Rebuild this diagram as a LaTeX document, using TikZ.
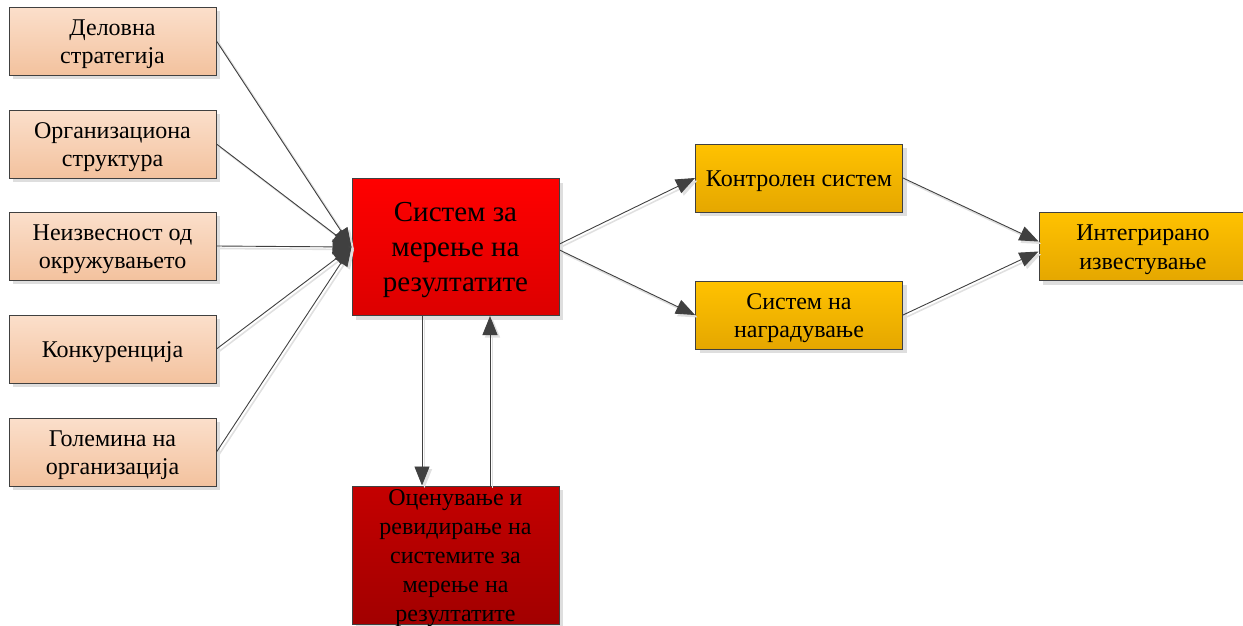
\documentclass[tikz,border=0pt]{standalone}
\usepackage{fontspec}
\setmainfont{Liberation Serif}
\usetikzlibrary{arrows.meta,shadings}

\definecolor{edgegray}{HTML}{404040}
\definecolor{peachtop}{HTML}{FBDFCB}
\definecolor{peachbot}{HTML}{F3C29E}
\definecolor{redtop}{HTML}{FF0000}
\definecolor{redbot}{HTML}{DC0000}
\definecolor{darktop}{HTML}{C40000}
\definecolor{darkbot}{HTML}{A20000}
\definecolor{goldtop}{HTML}{FFC200}
\definecolor{goldbot}{HTML}{E5A700}

% invisible struts that lower the text block slightly inside its box
\newcommand{\lowA}{\rule{0pt}{22pt}}
\newcommand{\lowB}{\rule{0pt}{26pt}}

\tikzset{
  boxbase/.style={draw=edgegray, line width=1pt, align=center, inner sep=2pt,
    minimum width=207pt, minimum height=68pt, text=black},
  factorbox/.style={boxbase, top color=peachtop, bottom color=peachbot,
    font=\fontsize{24}{28.5}\selectfont},
  corebox/.style={boxbase, minimum height=137pt, top color=redtop, bottom color=redbot,
    font=\fontsize{29}{35}\selectfont},
  reviewbox/.style={boxbase, minimum height=138pt, top color=darktop, bottom color=darkbot},
  reviewtext/.style={align=center, inner sep=0pt, text=black,
    font=\fontsize{24}{29}\selectfont},
  outbox/.style={boxbase, top color=goldtop, bottom color=goldbot,
    font=\fontsize{24}{28.5}\selectfont},
  boxshadow/.style={fill=black!13, draw=none},
  conn/.style={draw=edgegray, line width=0.9pt,
    -{Triangle[length=19pt,width=15pt]}},
  connshadow/.style={draw=black!12, line width=1.6pt,
    -{Triangle[length=19pt,width=15pt]}}
}

\begin{document}
\begin{tikzpicture}[x=1pt,y=-1pt]
\useasboundingbox (0,0) rectangle (1243,625);
\clip (0,0) rectangle (1243,625);

% box shadows
\foreach \cx/\cy/\w/\h in {112.5/41/207/68, 112.5/144/207/68, 112.5/246/207/68,
    112.5/349/207/68, 112.5/452/207/68, 455.5/247/207/137, 455.5/555/207/138,
    799/178/207/68, 799/315/207/68, 1143/246.5/208/68}
  \fill[boxshadow] (\cx-\w/2+4,\cy-\h/2+4) rectangle (\cx+\w/2+4,\cy+\h/2+4);

% nodes
\node[factorbox] (f1) at (112.5,41) {\lowA Деловна\\стратегија};
\node[factorbox] (f2) at (112.5,144) {\lowA Организациона\\структура};
\node[factorbox] (f3) at (112.5,246) {\lowA Неизвесност од\\окружувањето};
\node[factorbox] (f4) at (112.5,349) {\lowA Конкуренција};
\node[factorbox] (f5) at (112.5,452) {\lowA Големина на\\организација};

\node[corebox] (core) at (455.5,247) {\lowB Систем за\\мерење на\\резултатите};
\node[reviewbox] (rev) at (455.5,555) {};
\node[reviewtext] (revtext) at ([yshift=-3pt]rev.center)
  {Оценување и\\ревидирање на\\системите за\\мерење на\\резултатите};

\node[outbox] (ctrl) at (799,178) {\lowA Контролен систем};
\node[outbox] (rew) at (799,315) {\lowA Систем на\\наградување};
\node[outbox, minimum width=208pt] (intg) at (1143,246.5) {\lowA Интегрирано\\известување};

% connector coordinates
\coordinate (coreout1) at ([yshift=3pt]core.east);
\coordinate (coreout2) at ([yshift=-3pt]core.east);
\coordinate (intin1) at ([yshift=5pt]intg.west);
\coordinate (intin2) at ([yshift=-5pt]intg.west);
\coordinate (down0) at ([xshift=-33.5pt]core.south);
\coordinate (down1) at ([xshift=-33.5pt]rev.north);
\coordinate (up0) at ([xshift=34.5pt]rev.north);
\coordinate (up1) at ([xshift=34.5pt]core.south);

% connector shadows
\begin{scope}[transform canvas={shift={(2.5pt,-2.5pt)}}]
  \foreach \s in {f1,f2,f3,f4,f5}
    \draw[connshadow] (\s.east) -- (core.west);
  \draw[connshadow] (coreout1) -- (ctrl.west);
  \draw[connshadow] (coreout2) -- (rew.west);
  \draw[connshadow] (ctrl.east) -- (intin1);
  \draw[connshadow] (rew.east) -- (intin2);
  \draw[connshadow] (down0) -- (down1);
  \draw[connshadow] (up0) -- (up1);
\end{scope}

% connectors
\foreach \s in {f1,f2,f3,f4,f5}
  \draw[conn] (\s.east) -- (core.west);
\draw[conn] (coreout1) -- (ctrl.west);
\draw[conn] (coreout2) -- (rew.west);
\draw[conn] (ctrl.east) -- (intin1);
\draw[conn] (rew.east) -- (intin2);
\draw[conn] (down0) -- (down1);
\draw[conn] (up0) -- (up1);
\end{tikzpicture}
\end{document}
